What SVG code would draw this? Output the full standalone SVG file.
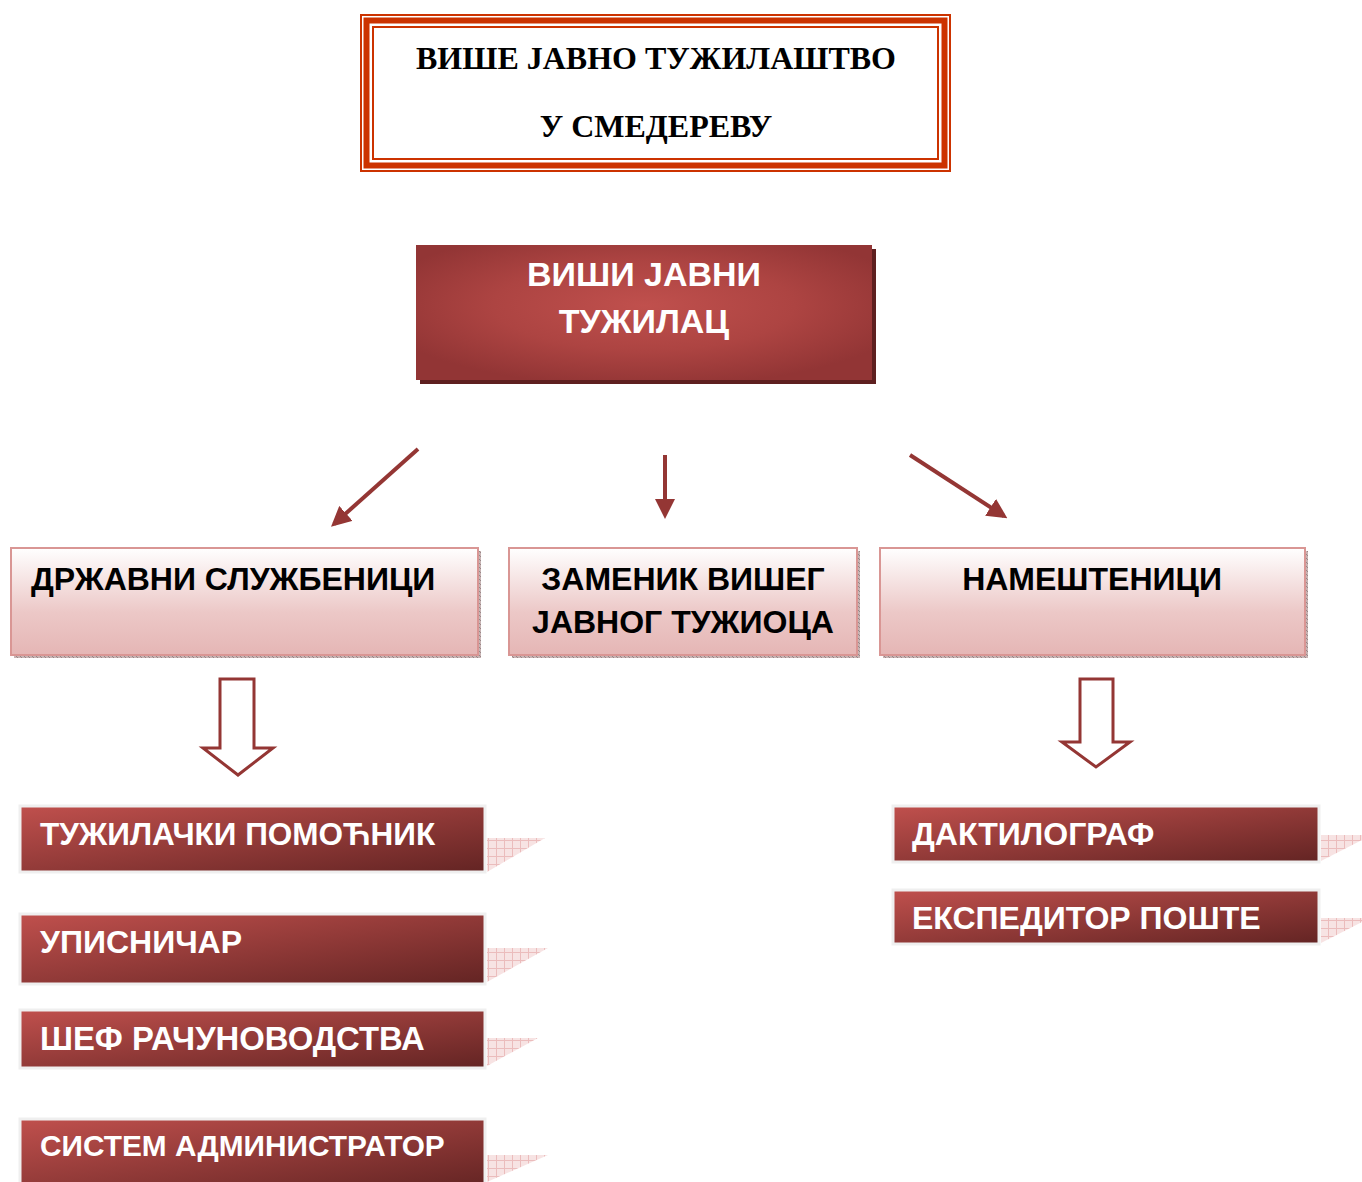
<svg xmlns="http://www.w3.org/2000/svg" width="1362" height="1182" viewBox="0 0 1362 1182">
<defs>
<style>
.ser{font-family:"Liberation Serif","Times New Roman",serif;font-weight:bold;fill:#000}
.sans{font-family:"Liberation Sans",Arial,sans-serif;font-weight:bold}
.blk{fill:#000}
.wht{fill:#fff}
.conn{stroke:#943634;stroke-width:4;fill:none}
.block{stroke:#943634;stroke-width:3;fill:#fff}
.pinkbox{fill:url(#pinkG);stroke:#d99694;stroke-width:2}
.darkbox{fill:url(#darkG);stroke:#efefef;stroke-width:3}
.tail{fill:url(#grid)}
</style>
<radialGradient id="topG" cx="0.5" cy="0.45" r="0.6">
<stop offset="0" stop-color="#c0504d"/>
<stop offset="0.55" stop-color="#ad4442"/>
<stop offset="1" stop-color="#923535"/>
</radialGradient>
<linearGradient id="pinkG" x1="0" y1="0" x2="0" y2="1">
<stop offset="0" stop-color="#ffffff"/>
<stop offset="0.6" stop-color="#ecc8c7"/>
<stop offset="1" stop-color="#e5b6b5"/>
</linearGradient>
<linearGradient id="darkG" x1="0" y1="0" x2="1" y2="1">
<stop offset="0" stop-color="#c0504d"/>
<stop offset="1" stop-color="#632423"/>
</linearGradient>
<pattern id="grid" width="8" height="8" patternUnits="userSpaceOnUse">
<rect width="8" height="8" fill="#f7e3e3"/>
<path d="M0 0.5H8M0.5 0V8" stroke="#ebbcbc" stroke-width="1"/>
</pattern>
<pattern id="hatch" width="4" height="4" patternUnits="userSpaceOnUse">
<rect width="4" height="4" fill="#c8b4b4"/>
<path d="M0 0L4 4" stroke="#8a7a7a" stroke-width="0.8"/>
</pattern>
<marker id="ah" markerWidth="5" markerHeight="5" refX="4" refY="2.5" orient="auto" markerUnits="strokeWidth">
<path d="M0,0L5,2.5L0,5z" fill="#943634"/>
</marker>
</defs>
<rect width="1362" height="1182" fill="#fff"/>

<g id="title">
<rect x="361" y="15" width="589" height="156" fill="none" stroke="#cc3300" stroke-width="2"/>
<rect x="366.5" y="20.5" width="578" height="145" fill="none" stroke="#cc3300" stroke-width="6"/>
<rect x="373" y="27" width="565" height="132" fill="none" stroke="#cc3300" stroke-width="2"/>
<text class="ser" x="656" y="69" font-size="32" text-anchor="middle">ВИШЕ ЈАВНО ТУЖИЛАШТВО</text>
<text class="ser" x="656" y="137" font-size="32" text-anchor="middle">У СМЕДЕРЕВУ</text>
</g>

<g id="chief">
<rect x="420" y="249" width="456" height="135" fill="#5e2020"/>
<rect x="416" y="245" width="456" height="135" fill="url(#topG)"/>
<text class="sans wht" x="644" y="286" font-size="34" text-anchor="middle">ВИШИ ЈАВНИ</text>
<text class="sans wht" x="644" y="333" font-size="34" text-anchor="middle">ТУЖИЛАЦ</text>
</g>

<g id="connectors">
<line class="conn" x1="418" y1="449" x2="334" y2="524" marker-end="url(#ah)"/>
<line class="conn" x1="665" y1="455" x2="665" y2="515" marker-end="url(#ah)"/>
<line class="conn" x1="910" y1="455" x2="1004" y2="516" marker-end="url(#ah)"/>
<path class="block" d="M220 679H254V748H273L238 775L203 748H220Z"/>
<path class="block" d="M1080 679H1113V742H1130L1096 767L1062 742H1080Z"/>
</g>

<g id="civil">
<rect x="14" y="551" width="467" height="107" fill="url(#hatch)"/>
<rect class="pinkbox" x="11" y="548" width="467" height="107"/>
<text class="sans blk" x="31" y="590" font-size="32">ДРЖАВНИ СЛУЖБЕНИЦИ</text>
</g>

<g id="deputy">
<rect x="512" y="551" width="348" height="107" fill="url(#hatch)"/>
<rect class="pinkbox" x="509" y="548" width="348" height="107"/>
<text class="sans blk" x="683" y="590" font-size="32" text-anchor="middle">ЗАМЕНИК ВИШЕГ</text>
<text class="sans blk" x="683" y="633" font-size="32" text-anchor="middle">ЈАВНОГ ТУЖИОЦА</text>
</g>

<g id="employees">
<rect x="883" y="551" width="425" height="107" fill="url(#hatch)"/>
<rect class="pinkbox" x="880" y="548" width="425" height="107"/>
<text class="sans blk" x="1092" y="590" font-size="32" text-anchor="middle">НАМЕШТЕНИЦИ</text>
</g>

<g id="assistant">
<path class="tail" d="M487 838H545L487 872Z"/>
<rect class="darkbox" x="20" y="806" width="465" height="66"/>
<text class="sans wht" x="40" y="845" font-size="31.5">ТУЖИЛАЧКИ ПОМОЋНИК</text>
</g>

<g id="registrar">
<path class="tail" d="M487 948H548L487 982Z"/>
<rect class="darkbox" x="20" y="914" width="465" height="70"/>
<text class="sans wht" x="40" y="953" font-size="32">УПИСНИЧАР</text>
</g>

<g id="accounting">
<path class="tail" d="M487 1038H538L487 1066Z"/>
<rect class="darkbox" x="20" y="1010" width="465" height="58"/>
<text class="sans wht" x="40" y="1050" font-size="32.8">ШЕФ РАЧУНОВОДСТВА</text>
</g>

<g id="sysadmin">
<path class="tail" d="M487 1155H548L487 1182Z"/>
<rect class="darkbox" x="20" y="1119" width="465" height="70"/>
<text class="sans wht" x="40" y="1156" font-size="29.8">СИСТЕМ АДМИНИСТРАТОР</text>
</g>

<g id="typist">
<path class="tail" d="M1321 835H1362V840L1321 861Z"/>
<rect class="darkbox" x="893" y="806" width="426" height="56"/>
<text class="sans wht" x="912" y="845" font-size="32">ДАКТИЛОГРАФ</text>
</g>

<g id="mail">
<path class="tail" d="M1321 918H1362V922L1321 943Z"/>
<rect class="darkbox" x="893" y="890" width="426" height="54"/>
<text class="sans wht" x="912" y="929" font-size="32">ЕКСПЕДИТОР ПОШТЕ</text>
</g>
</svg>
